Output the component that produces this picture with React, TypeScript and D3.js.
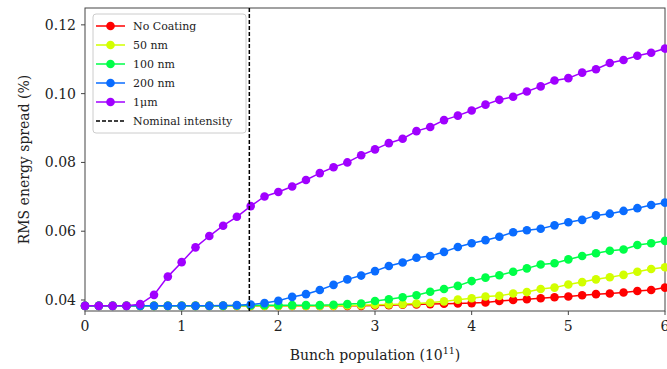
import React from "react";
import * as d3 from "d3";

// bunch population grid (1e11), 43 samples from 0 to 6
const population = [
  0, 0.143, 0.286, 0.429, 0.571, 0.714, 0.857, 1.0, 1.143, 1.286, 1.429,
  1.571, 1.714, 1.857, 2.0, 2.143, 2.286, 2.429, 2.571, 2.714, 2.857, 3.0,
  3.143, 3.286, 3.429, 3.571, 3.714, 3.857, 4.0, 4.143, 4.286, 4.429, 4.571,
  4.714, 4.857, 5.0, 5.143, 5.286, 5.429, 5.571, 5.714, 5.857, 6.0,
];

const noCoating = [
  0.0383, 0.0383, 0.0383, 0.0383, 0.0383, 0.0383, 0.0383, 0.0383, 0.0383,
  0.0383, 0.0383, 0.0383, 0.0383, 0.0383, 0.0383, 0.0383, 0.0383, 0.0383,
  0.0383, 0.0383, 0.0383, 0.0384, 0.0385, 0.0386, 0.0387, 0.0388, 0.0389,
  0.039, 0.0391, 0.0393, 0.0397, 0.04, 0.0402, 0.0405, 0.0408, 0.041, 0.0414,
  0.0417, 0.0419, 0.0422, 0.0426, 0.0429, 0.0436,
];
const nm50 = [
  0.0383, 0.0383, 0.0383, 0.0383, 0.0383, 0.0383, 0.0383, 0.0383, 0.0383,
  0.0383, 0.0383, 0.0383, 0.0383, 0.0383, 0.0383, 0.0383, 0.0383, 0.0383,
  0.0383, 0.0384, 0.0385, 0.0386, 0.0387, 0.0388, 0.039, 0.0392, 0.0396,
  0.0401, 0.0405, 0.041, 0.0412, 0.0419, 0.0423, 0.0432, 0.0436, 0.0445,
  0.0452, 0.046, 0.0466, 0.0473, 0.0482, 0.049, 0.0495,
];
const nm100 = [
  0.0383, 0.0383, 0.0383, 0.0383, 0.0383, 0.0383, 0.0383, 0.0383, 0.0383,
  0.0383, 0.0383, 0.0384, 0.0384, 0.0385, 0.0385, 0.0385, 0.0385, 0.0385,
  0.0386, 0.0388, 0.039, 0.0397, 0.0402, 0.0408, 0.0414, 0.0424, 0.0432,
  0.0441, 0.0455, 0.0465, 0.0472, 0.0482, 0.0492, 0.0503, 0.0507, 0.0518,
  0.0528, 0.0536, 0.0543, 0.0547, 0.056, 0.0565, 0.0572,
];
const nm200 = [
  0.0383, 0.0383, 0.0383, 0.0383, 0.0383, 0.0383, 0.0383, 0.0383, 0.0383,
  0.0383, 0.0384, 0.0385, 0.0387, 0.0391, 0.0398, 0.0409, 0.0417, 0.0429,
  0.0444, 0.046, 0.0471, 0.0484, 0.0499, 0.0509, 0.0523, 0.0528, 0.054,
  0.0554, 0.0565, 0.0574, 0.0584, 0.0597, 0.0603, 0.0607, 0.0617, 0.0626,
  0.0633, 0.0646, 0.0651, 0.0659, 0.0667, 0.0676, 0.0683,
];
const um1 = [
  0.0383, 0.0383, 0.0383, 0.0383, 0.0388, 0.0415, 0.0468, 0.051, 0.0553,
  0.0586, 0.0616, 0.0642, 0.0673, 0.0701, 0.0714, 0.073, 0.0749, 0.0769,
  0.0786, 0.08, 0.0821, 0.0838, 0.0856, 0.0869, 0.0891, 0.0903, 0.0923,
  0.0936, 0.0951, 0.0968, 0.0982, 0.0991, 0.1006, 0.1021, 0.1038, 0.1045,
  0.1061, 0.1071, 0.1089, 0.1098, 0.111, 0.1119, 0.1131,
];

const seriesNames = ["No Coating", "50 nm", "100 nm", "200 nm", "1\u03bcm"];
const seriesValues = [noCoating, nm50, nm100, nm200, um1];
const seriesColors = ["#ff0000", "#d2ff00", "#00ff48", "#0a6cff", "#a000ff"];

const nominal = 1.7;
const xTicks = [0, 1, 2, 3, 4, 5, 6];
const yTicks = [0.04, 0.06, 0.08, 0.1, 0.12];

const W = 667;
const H = 369;
const m = { left: 85, right: 2, top: 8, bottom: 58 };
const font = "'DejaVu Serif', 'Liberation Serif', serif";

export default function App() {
  const x = d3.scaleLinear().domain([0, 6]).range([m.left, W - m.right]);
  const y = d3
    .scaleLinear()
    .domain([0.0368, 0.1249])
    .range([H - m.bottom, m.top]);

  const line = d3
    .line<[number, number]>()
    .x((d) => x(d[0]))
    .y((d) => y(d[1]));

  const x0 = m.left;
  const x1 = W - m.right;
  const y0 = H - m.bottom;
  const y1 = m.top;

  const legX = 93;
  const legY = 14;

  return (
    <svg
      width={W}
      height={H}
      style={{ position: "absolute", left: 0, top: 0, background: "#fff" }}
      fontFamily={font}
    >
      <rect x={x0} y={y1} width={x1 - x0} height={y0 - y1} fill="none" stroke="#444" strokeWidth={1} />

      {seriesValues.map((vals, k) => {
        const pts = population.map((p, i) => [p, vals[i]] as [number, number]);
        return (
          <g key={k}>
            <path d={line(pts) || ""} fill="none" stroke={seriesColors[k]} strokeWidth={1.5} />
            {pts.map((d, i) => (
              <circle key={i} cx={x(d[0])} cy={y(d[1])} r={4.3} fill={seriesColors[k]} />
            ))}
          </g>
        );
      })}

      <line x1={x(nominal)} x2={x(nominal)} y1={y1} y2={y0} stroke="#000" strokeWidth={1.5} strokeDasharray="4,2" />

      {xTicks.map((t) => (
        <g key={t}>
          <line x1={x(t)} x2={x(t)} y1={y0} y2={y0 + 4} stroke="#444" />
          <text x={x(t)} y={y0 + 20} textAnchor="middle" fontSize={14} fill="#222">
            {t}
          </text>
        </g>
      ))}
      {yTicks.map((t) => (
        <g key={t}>
          <line x1={x0 - 4} x2={x0} y1={y(t)} y2={y(t)} stroke="#444" />
          <text x={x0 - 9} y={y(t) + 5} textAnchor="end" fontSize={14} fill="#222">
            {t.toFixed(2)}
          </text>
        </g>
      ))}

      <text x={(x0 + x1) / 2} y={360} textAnchor="middle" fontSize={14} fill="#222">
        Bunch population (10<tspan dy={-6} fontSize={9.5}>11</tspan>
        <tspan dy={6}>)</tspan>
      </text>
      <text
        transform={`translate(29,${(y0 + y1) / 2}) rotate(-90)`}
        textAnchor="middle"
        fontSize={14}
        fill="#222"
      >
        RMS energy spread (%)
      </text>

      <rect x={legX} y={legY} width={153} height={119} rx={3} fill="#fff" fillOpacity={0.85} stroke="#ccc" />
      {seriesNames.map((n, k) => {
        const cy = legY + 12 + k * 19;
        return (
          <g key={n}>
            <line x1={legX + 3} x2={legX + 32} y1={cy} y2={cy} stroke={seriesColors[k]} strokeWidth={1.5} />
            <circle cx={legX + 17.5} cy={cy} r={4.3} fill={seriesColors[k]} />
            <text x={legX + 40} y={cy + 4} fontSize={11} fill="#222">
              {n}
            </text>
          </g>
        );
      })}
      <line
        x1={legX + 3}
        x2={legX + 32}
        y1={legY + 12 + 5 * 19}
        y2={legY + 12 + 5 * 19}
        stroke="#000"
        strokeWidth={1.5}
        strokeDasharray="4,2"
      />
      <text x={legX + 40} y={legY + 16 + 5 * 19} fontSize={11} fill="#222">
        Nominal intensity
      </text>
    </svg>
  );
}
